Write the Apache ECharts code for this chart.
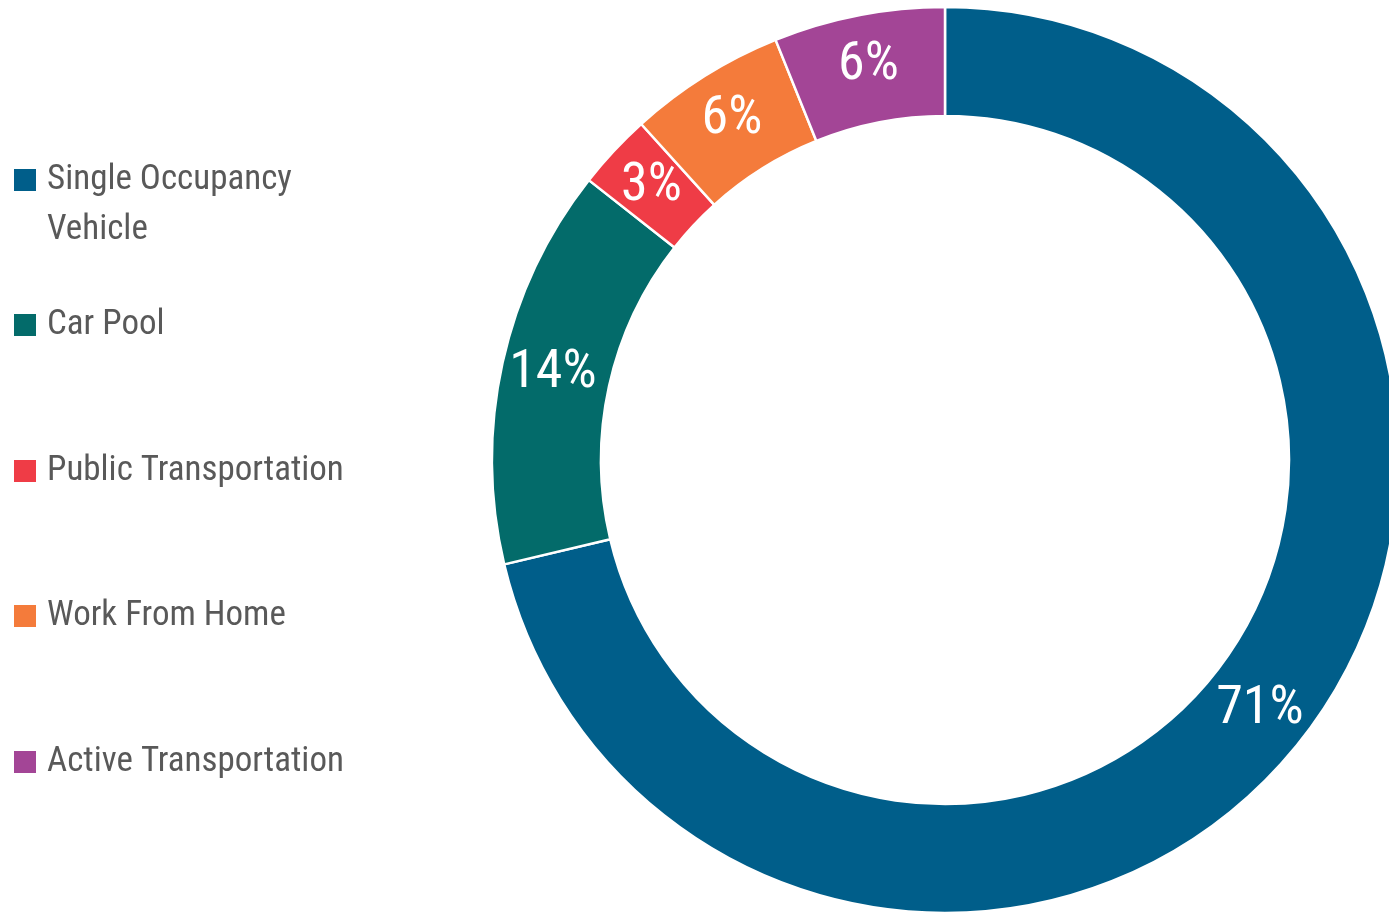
<!DOCTYPE html>
<html>
<head>
<meta charset="utf-8">
<script src="https://cdn.jsdelivr.net/npm/echarts@6/dist/echarts.min.js"></script>
<style>
html,body{margin:0;padding:0;background:#fff;}
#chart{width:1389px;height:915px;}
</style>
</head>
<body>
<div id="chart"></div>
<script>
const categories = ['Single Occupancy Vehicle', 'Car Pool', 'Public Transportation', 'Work From Home', 'Active Transportation'];
const legendLabels = ['\nSingle Occupancy\nVehicle', 'Car Pool', 'Public Transportation', 'Work From Home', 'Active Transportation'];
const shares = [71.3, 14.3, 2.7, 5.6, 6.1];
const colors = ['#005E8A', '#036B6A', '#EF3C46', '#F47B3B', '#A34596'];

const FONT = "'Roboto Condensed', 'Noto Sans Condensed', 'Open Sans Condensed', 'DejaVu Sans Condensed', sans-serif";
const legendCenters = [180, 325, 471, 616, 762];

const legends = categories.map((name, i) => {
  const lines = legendLabels[i].split('\n').length;
  return {
    data: [name],
    orient: 'vertical',
    left: 12,
    top: legendCenters[i] - lines * 25,
    padding: 0,
    itemWidth: 24,
    itemHeight: 24,
    icon: 'rect',
    selectedMode: false,
    formatter: () => legendLabels[i],
    textStyle: {
      color: '#595959',
      fontSize: 35,
      fontFamily: FONT,
      lineHeight: 50,
      padding: [0, 0, 0, 5]
    }
  };
});

const chart = echarts.init(document.getElementById('chart'));
chart.setOption({
  animation: false,
  color: colors,
  legend: legends,
  series: [{
    type: 'pie',
    center: [945, 460],
    radius: [344, 453],
    startAngle: 90,
    clockwise: true,
    avoidLabelOverlap: false,
    itemStyle: { borderColor: '#fff', borderWidth: 2.5 },
    label: {
      show: true,
      position: 'inside',
      color: '#fff',
      fontSize: 54,
      fontFamily: FONT,
      formatter: p => Math.round(p.percent) + '%'
    },
    labelLine: { show: false },
    emphasis: { disabled: true },
    data: categories.map((n, i) => ({ name: n, value: shares[i] }))
  }]
});
</script>
</body>
</html>
